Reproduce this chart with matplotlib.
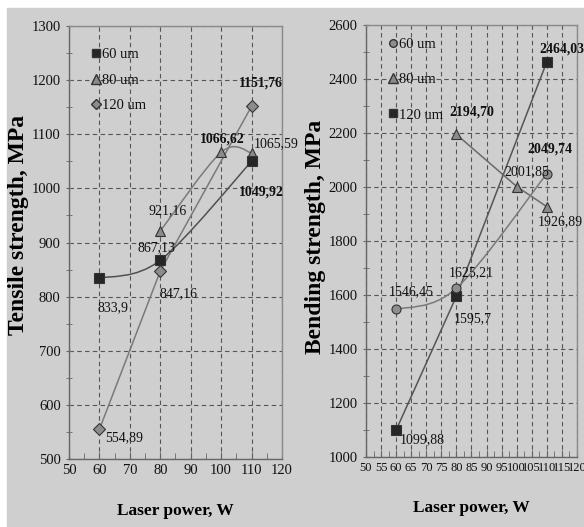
import numpy as np
import matplotlib.pyplot as plt
from matplotlib.path import Path
from matplotlib.patches import PathPatch, Rectangle
from matplotlib.lines import Line2D
from matplotlib.ticker import MultipleLocator

plt.rcParams['font.family'] = ['Liberation Serif', 'DejaVu Serif']

BG = '#cfcfcf'

# tensile strength, MPa
ts_60_x = [60, 80, 110]
ts_60 = [833.9, 867.13, 1049.92]
ts_60_lbl = ['833,9', '867,13', '1049,92']
ts_80_x = [80, 100, 110]
ts_80 = [921.16, 1066.62, 1065.59]
ts_80_lbl = ['921,16', '1066,62', '1065,59']
ts_120_x = [60, 80, 110]
ts_120 = [554.89, 847.16, 1151.76]
ts_120_lbl = ['554,89', '847,16', '1151,76']

# bending strength, MPa
bs_60_x = [60, 80, 110]
bs_60 = [1546.45, 1625.21, 2049.74]
bs_60_lbl = ['1546,45', '1625,21', '2049,74']
bs_80_x = [80, 100, 110]
bs_80 = [2194.70, 2001.85, 1926.89]
bs_80_lbl = ['2194,70', '2001,85', '1926,89']
bs_120_x = [60, 80, 110]
bs_120 = [1099.88, 1595.7, 2464.03]
bs_120_lbl = ['1099,88', '1595,7', '2464,03']


def smooth_path(xs, ys):
    # excel-like smoothed line: cubic bezier through the points
    p = np.column_stack([xs, ys]).astype(float)
    n = len(p)
    verts = [p[0]]
    codes = [Path.MOVETO]
    for i in range(n - 1):
        p0 = p[i - 1] if i > 0 else p[i]
        p3 = p[i + 2] if i + 2 < n else p[i + 1]
        c1 = p[i] + (p[i + 1] - p0) / 6
        c2 = p[i + 1] - (p3 - p[i]) / 6
        verts += [c1, c2, p[i + 1]]
        codes += [Path.CURVE4] * 3
    return Path(verts, codes)


def draw_series(ax, xs, ys, smooth, marker, mfc, ms, lc):
    if smooth:
        ax.add_patch(PathPatch(smooth_path(xs, ys), fill=False, edgecolor=lc, lw=1.1, zorder=2))
    else:
        ax.plot(xs, ys, color=lc, lw=1.1, zorder=2)
    ax.plot(xs, ys, ls='none', marker=marker, ms=ms, mfc=mfc, mec='#333333', mew=0.8, zorder=3)


def label(ax, xs, ys, texts, offsets, bold):
    for x, y, t, off, b in zip(xs, ys, texts, offsets, bold):
        ax.annotate(t, (x, y), xytext=off, textcoords='offset points', ha='center', va='center',
                    fontsize=10, fontweight='bold' if b else 'normal', color='#111111', zorder=4)


def style_axes(ax):
    ax.set_facecolor(BG)
    for s in ax.spines.values():
        s.set_color('#8a8a8a')
        s.set_linewidth(1.0)
    ax.spines['left'].set_color('#666666')
    ax.spines['bottom'].set_color('#666666')
    ax.grid(True, which='major', color='#555555', ls=(0, (4, 3)), lw=0.8)
    ax.tick_params(which='both', colors='#666666', labelcolor='#111111', labelsize=10.5)
    ax.tick_params(axis='x', which='both', direction='in')
    ax.tick_params(axis='y', which='both', direction='inout')
    ax.tick_params(which='major', length=5)
    ax.tick_params(which='minor', length=4)


fig = plt.figure(figsize=(5.84, 5.27), dpi=100)
fig.patches.append(Rectangle((7 / 584, 0), 1, 1 - 8 / 527, transform=fig.transFigure,
                             color=BG, zorder=-1))

# left: tensile
ax1 = fig.add_axes([69 / 584, 1 - 459 / 527, 213 / 584, 433 / 527])
style_axes(ax1)
ax1.set_xlim(50, 120)
ax1.set_ylim(500, 1300)
ax1.xaxis.set_major_locator(MultipleLocator(10))
ax1.xaxis.set_minor_locator(MultipleLocator(5))
ax1.yaxis.set_major_locator(MultipleLocator(100))
ax1.yaxis.set_minor_locator(MultipleLocator(50))

draw_series(ax1, ts_120_x, ts_120, False, 'D', '#8c8c8c', 6, '#7a7a7a')
draw_series(ax1, ts_80_x, ts_80, True, '^', '#8a8a8a', 7.5, '#7a7a7a')
draw_series(ax1, ts_60_x, ts_60, True, 's', '#262626', 6.5, '#505050')

label(ax1, ts_60_x, ts_60, ts_60_lbl, [(10, -21), (-2.5, 9), (7, -22)], [False, False, True])
label(ax1, ts_80_x, ts_80, ts_80_lbl, [(5.5, 15), (0.7, 9.5), (18, 6.5)], [False, True, False])
label(ax1, ts_120_x, ts_120, ts_120_lbl, [(18, -6), (13, -16), (7, 17)], [False, False, True])

h1 = [Line2D([], [], ls='none', marker='s', ms=6, mfc='#262626', mec='#333333'),
      Line2D([], [], ls='none', marker='^', ms=7, mfc='#8a8a8a', mec='#333333'),
      Line2D([], [], ls='none', marker='D', ms=5.5, mfc='#8c8c8c', mec='#333333')]
leg1 = ax1.legend(h1, ['60 um', '80 um', '120 um'], loc='upper left', bbox_to_anchor=(0.08, 0.963),
                  frameon=False, handlelength=0.6, handletextpad=0.1, labelspacing=0.85,
                  fontsize=10.5, borderaxespad=0)
for t in leg1.get_texts():
    t.set_color('#111111')

ax1.set_xlabel('Laser power, W', fontsize=12.5, fontweight='bold', labelpad=19)
ax1.set_ylabel('Tensile strength, MPa', fontsize=17, fontweight='bold', va='center')
ax1.yaxis.set_label_coords(-0.235, 0.54)

# right: bending
ax2 = fig.add_axes([366 / 584, 1 - 457 / 527, 211 / 584, 432 / 527])
style_axes(ax2)
ax2.set_xlim(50, 120)
ax2.set_ylim(1000, 2600)
ax2.xaxis.set_major_locator(MultipleLocator(5))
ax2.xaxis.set_minor_locator(MultipleLocator(2.5))
ax2.yaxis.set_major_locator(MultipleLocator(200))
ax2.yaxis.set_minor_locator(MultipleLocator(100))
ax2.tick_params(axis='x', labelsize=9)

draw_series(ax2, bs_120_x, bs_120, False, 's', '#262626', 6.5, '#555555')
draw_series(ax2, bs_80_x, bs_80, False, '^', '#8a8a8a', 7.5, '#6a6a6a')
draw_series(ax2, bs_60_x, bs_60, True, 'o', '#8e8e8e', 6.5, '#7a7a7a')

label(ax2, bs_60_x, bs_60, bs_60_lbl, [(11, 13), (11, 11), (2, 18)], [False, False, True])
label(ax2, bs_80_x, bs_80, bs_80_lbl, [(11, 16), (7, 10.5), (9.5, -11)], [True, False, False])
label(ax2, bs_120_x, bs_120, bs_120_lbl, [(19, -7), (12, -16), (10.5, 9)], [False, False, True])

h2 = [Line2D([], [], ls='none', marker='o', ms=5.5, mfc='#8e8e8e', mec='#333333'),
      Line2D([], [], ls='none', marker='^', ms=7, mfc='#8a8a8a', mec='#333333'),
      Line2D([], [], ls='none', marker='s', ms=6, mfc='#262626', mec='#333333')]
leg2 = ax2.legend(h2, ['60 um', '80 um', '120 um'], loc='upper left', bbox_to_anchor=(0.08, 0.983),
                  frameon=False, handlelength=0.6, handletextpad=0.1, labelspacing=1.5,
                  fontsize=10.5, borderaxespad=0)
for t in leg2.get_texts():
    t.set_color('#111111')

ax2.set_xlabel('Laser power, W', fontsize=12.5, fontweight='bold', labelpad=19)
ax2.set_ylabel('Bending strength, MPa', fontsize=17, fontweight='bold', va='center')
ax2.yaxis.set_label_coords(-0.237, 0.51)

fig.savefig('out.png', dpi=100, facecolor='white')
